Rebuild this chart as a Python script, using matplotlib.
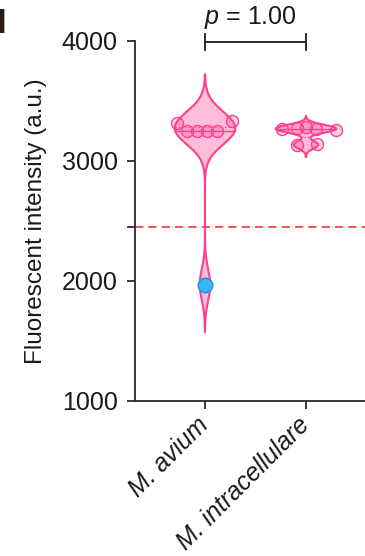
import numpy as np
import matplotlib
matplotlib.use("Agg")
import matplotlib.pyplot as plt
import matplotlib.transforms as mtransforms

plt.rcParams['font.family'] = ['Liberation Sans', 'DejaVu Sans']
plt.rcParams['mathtext.fontset'] = 'custom'
plt.rcParams['mathtext.it'] = 'Liberation Sans:italic'
plt.rcParams['mathtext.rm'] = 'Liberation Sans'

# ---------------- data ----------------
categories = ['M. avium', 'M. intracellulare']
avium_values = [3317, 3250, 3250, 3250, 3250, 3333]
avium_highlight = [1970]
intra_values = [3265, 3272, 3280, 3268, 3260, 3130, 3140]
threshold = 2450
p_label = '$p$ = 1.00'
y_ticks = [1000, 2000, 3000, 4000]

# ---------------- layout / style ----------------
avium_jitter = [-0.28, -0.18, -0.08, 0.02, 0.12, 0.27]
highlight_jitter = [0.0]
intra_jitter = [-0.24, -0.09, 0.0, 0.10, 0.30, -0.09, 0.11]
bandwidths = [130, 32]
half_width = 0.30
edge_c = '#FF3F8E'
fill_c = '#FFBDD9'
blue_c = '#38B6F4'
blue_edge = '#1E8FE6'
axis_c = '#2b2b2b'
fs = 18

W, H = 365, 556
fig = plt.figure(figsize=(W / 100, H / 100), dpi=100)
ax_left, ax_bot, ax_w, ax_h = 135, 155, 242, 360
ax = fig.add_axes([ax_left / W, ax_bot / H, ax_w / W, ax_h / H])
ax.set_xlim(-0.693, 1.703)
ax.set_ylim(1000, 4000)


def kde(vals, h, grid):
    vals = np.asarray(vals, float)
    return np.exp(-0.5 * ((grid[:, None] - vals[None, :]) / h) ** 2).sum(axis=1)


groups = [avium_values + avium_highlight, intra_values]
for i, (vals, h) in enumerate(zip(groups, bandwidths)):
    lo, hi = min(vals) - 3 * h, max(vals) + 3 * h
    y = np.linspace(lo, hi, 600)
    d = kde(vals, h, y)
    w = d / d.max() * half_width
    ax.fill_betweenx(y, i - w, i + w, facecolor=fill_c, edgecolor='none', zorder=2)
    xs = np.concatenate([i - w, (i + w)[::-1], [i - w[0]]])
    ys = np.concatenate([y, y[::-1], [y[0]]])
    ax.plot(xs, ys, color=edge_c, lw=1.5, zorder=3, solid_joinstyle='round')
    # median and quartiles
    q1, med, q3 = np.percentile(vals, [25, 50, 75])
    for q, ls in [(med, '-'), (q1, ':'), (q3, ':')]:
        wq = np.interp(q, y, w)
        ax.plot([i - wq, i + wq], [q, q], color=edge_c, lw=0.9, ls=ls, zorder=3)

# points
ax.scatter(np.array(avium_jitter) + 0, avium_values, s=75, facecolor=(1, 0.25, 0.55, 0.25),
           edgecolor=edge_c, linewidth=1.0, zorder=4)
ax.scatter(np.array(intra_jitter) + 1, intra_values, s=75, facecolor=(1, 0.25, 0.55, 0.25),
           edgecolor=edge_c, linewidth=1.0, zorder=4)
ax.scatter(np.array(highlight_jitter) + 0, avium_highlight, s=110, facecolor=blue_c,
           edgecolor=blue_edge, linewidth=1.0, zorder=5)

# threshold line
ax.axhline(threshold, color='#FF3333', lw=1.2, ls=(0, (5, 3)), zorder=1)

# axes styling
for s in ['top', 'right']:
    ax.spines[s].set_visible(False)
for s in ['left', 'bottom']:
    ax.spines[s].set_color(axis_c)
    ax.spines[s].set_linewidth(1.3)
ax.set_yticks(y_ticks + [threshold])
ax.set_yticklabels([str(t) for t in y_ticks] + [''])
ax.set_xticks([0, 1])
ax.set_xticklabels(categories, rotation=45, ha='right', rotation_mode='anchor',
                   style='italic', fontsize=17.5)
ax.tick_params(axis='both', length=6, width=1.3, color=axis_c, labelsize=fs,
               labelcolor='#1a1a1a', direction='out')
ax.tick_params(axis='y', pad=6.5)
ax.tick_params(axis='x', pad=3)
offset = mtransforms.ScaledTranslation(-9 / 100, 1 / 100, fig.dpi_scale_trans)
for lbl in ax.get_xticklabels():
    lbl.set_transform(lbl.get_transform() + offset)
ax.set_ylabel('Fluorescent intensity (a.u.)', fontsize=17.5, color='#1a1a1a')
ax.yaxis.set_label_coords((47 - ax_left) / ax_w, 0.5)

# significance bracket
yb = 3992
ax.plot([0, 1], [yb, yb], color='#1a1a1a', lw=1.3, clip_on=False, zorder=6)
for xb in [0, 1]:
    ax.plot([xb, xb], [yb - 70, yb + 70], color='#1a1a1a', lw=1.3, clip_on=False, zorder=6)
ax.text(0.45, 4145, p_label, ha='center', va='baseline', fontsize=fs, color='#1a1a1a',
        clip_on=False)

# panel letter
fig.text(-3 / W, 1 - 33 / H, 'I', fontsize=25, fontweight='bold', color='#2a1a12',
         ha='left', va='baseline')

fig.savefig('out.png', dpi=100)
